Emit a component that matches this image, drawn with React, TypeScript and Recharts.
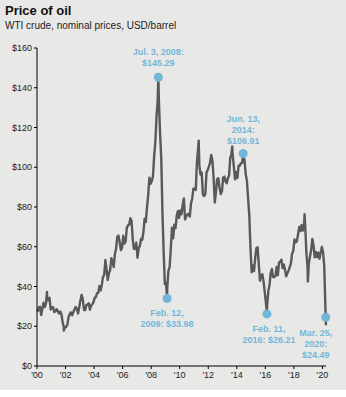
import { ComposedChart, Line, XAxis, YAxis, ReferenceDot } from "recharts";

// WTI crude, monthly average prices (USD/barrel), Jan..Dec
const years = [2000, 2001, 2002, 2003, 2004, 2005, 2006, 2007, 2008, 2009, 2010, 2011, 2012, 2013, 2014, 2015, 2016, 2017, 2018, 2019, 2020];

const wti2000 = [27.3, 29.4, 29.8, 25.7, 28.8, 31.8, 29.7, 31.3, 33.9, 33.1, 34.4, 28.4];
const wti2001 = [29.6, 29.6, 27.2, 27.5, 28.6, 27.6, 26.4, 27.4, 26.2, 22.2, 19.6, 19.4];
const wti2002 = [19.7, 20.7, 24.5, 26.2, 27.0, 25.5, 27.0, 28.4, 29.7, 28.8, 26.4, 29.5];
const wti2003 = [33.0, 35.8, 33.5, 28.2, 28.1, 30.7, 30.8, 31.6, 28.3, 30.3, 31.1, 32.1];
const wti2004 = [34.3, 34.7, 36.7, 36.8, 40.3, 38.0, 40.8, 44.9, 45.9, 53.3, 48.5, 43.2];
const wti2005 = [46.8, 48.2, 54.2, 53.0, 49.8, 56.4, 59.0, 65.0, 65.6, 62.3, 58.3, 59.4];
const wti2006 = [65.5, 61.6, 62.7, 69.4, 70.8, 71.0, 74.4, 73.0, 63.8, 58.9, 59.1, 62.0];
const wti2007 = [54.5, 59.3, 60.4, 64.0, 63.5, 67.5, 74.1, 72.4, 79.9, 85.8, 94.8, 91.7];
const wti2008 = [93.0, 95.4, 105.5, 112.6, 125.4, 133.9, 133.4, 116.7, 104.1, 76.6, 57.3, 41.1];
const wti2009 = [41.7, 39.1, 47.9, 49.7, 59.0, 69.6, 64.2, 71.1, 69.4, 75.7, 78.0, 74.5];
const wti2010 = [78.3, 76.4, 81.2, 84.3, 73.7, 75.3, 76.3, 76.6, 75.2, 81.9, 84.3, 89.2];
const wti2011 = [89.2, 88.6, 102.9, 109.5, 100.9, 96.3, 97.3, 86.3, 85.5, 86.3, 97.2, 98.6];
const wti2012 = [100.3, 102.2, 106.2, 103.3, 94.7, 82.3, 87.9, 94.1, 94.5, 89.5, 86.5, 87.9];
const wti2013 = [94.8, 95.3, 92.9, 92.0, 94.5, 95.8, 104.7, 106.6, 106.3, 100.5, 93.9, 97.6];
const wti2014 = [94.6, 100.8, 100.8, 102.1, 102.2, 105.8, 103.6, 96.5, 93.2, 84.4, 75.8, 59.3];
const wti2015 = [47.2, 50.6, 47.8, 54.5, 59.3, 59.8, 50.9, 42.9, 45.5, 46.2, 42.4, 37.2];
const wti2016 = [31.7, 30.3, 37.6, 40.8, 46.7, 48.8, 44.7, 44.7, 45.2, 49.8, 45.7, 52.0];
const wti2017 = [52.5, 53.5, 49.3, 51.1, 48.5, 45.2, 46.6, 48.0, 49.8, 51.6, 56.6, 57.9];
const wti2018 = [63.7, 62.2, 62.7, 66.3, 70.0, 67.9, 71.0, 68.1, 70.2, 70.8, 57.0, 49.5];
const wti2019 = [51.4, 55.0, 58.2, 63.9, 60.8, 54.7, 57.4, 54.8, 57.0, 54.0, 57.0, 59.9];
const wti2020 = [57.5, 50.5, 29.2];

const monthlyPrices = [wti2000, wti2001, wti2002, wti2003, wti2004, wti2005, wti2006, wti2007, wti2008, wti2009, wti2010, wti2011, wti2012, wti2013, wti2014, wti2015, wti2016, wti2017, wti2018, wti2019, wti2020];

// daily highs / lows that stand out in the picture (decimal year, price)
const spikeDates = [2000.7, 2001.88, 2008.503, 2009.115, 2011.33, 2013.68, 2014.447, 2016.112, 2018.75, 2018.98, 2020.23, 2020.247];
const spikeValues = [37.2, 17.8, 145.29, 33.98, 113.4, 110.5, 106.91, 26.21, 76.4, 42.5, 24.49, 20.5];

// annotated points
const noteDates = [2008.503, 2009.115, 2014.447, 2016.112, 2020.23];
const noteValues = [145.29, 33.98, 106.91, 26.21, 24.49];
const noteLabels = [
  ["Jul. 3, 2008:", "$145.29"],
  ["Feb. 12,", "2009: $33.98"],
  ["Jun. 13,", "2014:", "$106.91"],
  ["Feb. 11,", "2016: $26.21"],
  ["Mar. 25,", "2020:", "$24.49"],
];

const yTicks = [0, 20, 40, 60, 80, 100, 120, 140, 160];
const xTicks = [2000, 2002, 2004, 2006, 2008, 2010, 2012, 2014, 2016, 2018, 2020];

// label placement relative to each dot
const noteOffsets = [
  { dx: 0, dy: -25 },
  { dx: 0, dy: 15 },
  { dx: 0, dy: -35 },
  { dx: 2, dy: 15 },
  { dx: -10, dy: 16 },
];

const BLUE = "#72b6d8";
const FONT = "Arial, 'Liberation Sans', Helvetica, sans-serif";

const data: { x: number; price: number }[] = [];
monthlyPrices.forEach((vals, i) => {
  vals.forEach((v, m) => {
    data.push({ x: years[i] + (m + 0.5) / 12, price: v });
  });
});
spikeDates.forEach((d, i) => data.push({ x: d, price: spikeValues[i] }));
data.sort((a, b) => a.x - b.x);

function NoteDot(props: any) {
  const { cx, cy, index } = props;
  const off = noteOffsets[index];
  const lines = noteLabels[index];
  return (
    <g>
      <circle cx={cx} cy={cy} r={4.5} fill={BLUE} />
      {lines.map((t, k) => (
        <text
          key={k}
          x={cx + off.dx}
          y={cy + off.dy + k * 11 + 3}
          textAnchor="middle"
          fontSize={9}
          fontWeight="bold"
          fill={BLUE}
          fontFamily={FONT}
        >
          {t}
        </text>
      ))}
    </g>
  );
}

export default function App() {
  return (
    <div
      style={{
        position: "absolute",
        left: 0,
        top: 0,
        width: 346,
        height: 390,
        background: "#e8e8e6",
        fontFamily: FONT,
      }}
    >
      <div
        style={{
          position: "absolute",
          left: 5,
          top: 3,
          fontSize: 13,
          lineHeight: "16px",
          fontWeight: "bold",
          color: "#111",
        }}
      >
        Price of oil
      </div>
      <div
        style={{
          position: "absolute",
          left: 5,
          top: 20,
          fontSize: 10,
          lineHeight: "12px",
          color: "#222",
        }}
      >
        WTI crude, nominal prices, USD/barrel
      </div>

      <ComposedChart
        width={346}
        height={390}
        data={data}
        margin={{ top: 48, right: 20, bottom: 4, left: 0 }}
        style={{ position: "absolute", left: 0, top: 0 }}
      >
        <XAxis
          dataKey="x"
          type="number"
          domain={[2000, 2020.25]}
          ticks={xTicks}
          tickFormatter={(v) => "'" + String(v).slice(2)}
          tick={{ fontSize: 9, fill: "#222", fontFamily: FONT }}
          tickSize={3}
          tickMargin={3}
          height={20}
          stroke="#000"
          interval={0}
        />
        <YAxis
          type="number"
          domain={[0, 160]}
          ticks={yTicks}
          tickFormatter={(v) => "$" + v}
          tick={{ fontSize: 9, fill: "#222", fontFamily: FONT }}
          tickSize={3}
          tickMargin={2}
          width={37}
          stroke="#000"
          interval={0}
        />
        <Line
          type="linear"
          dataKey="price"
          stroke="#595959"
          strokeWidth={2.4}
          strokeLinejoin="round"
          dot={false}
          isAnimationActive={false}
        />
        {noteDates.map((d, i) => (
          <ReferenceDot
            key={i}
            x={d}
            y={noteValues[i]}
            r={4.5}
            shape={(p: any) => <NoteDot {...p} index={i} />}
          />
        ))}
      </ComposedChart>
    </div>
  );
}
